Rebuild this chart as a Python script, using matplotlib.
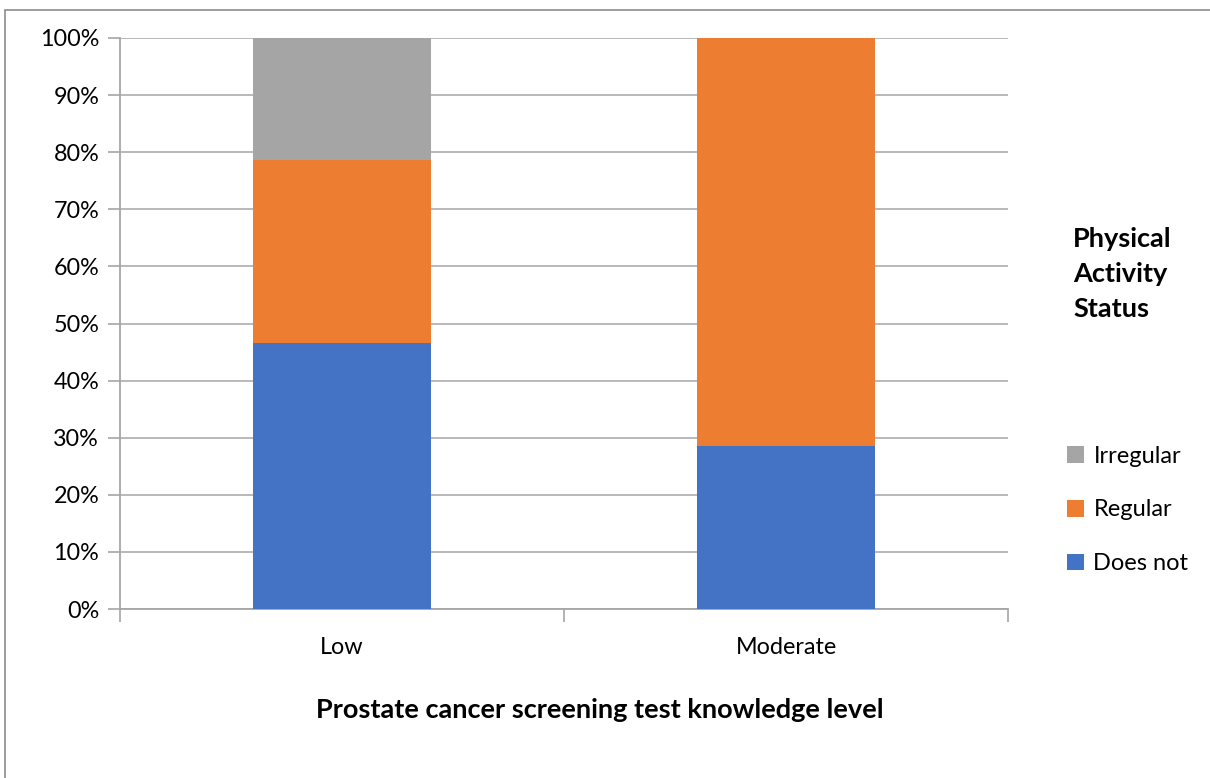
import numpy as np
import matplotlib.pyplot as plt
from matplotlib.patches import Rectangle

plt.rcParams['font.family'] = ['Lato', 'DejaVu Sans']

# data: percentage of each physical activity status per knowledge level
levels = ['Low', 'Moderate']
does_not = [46.6, 28.5]
regular = [32.0, 71.5]
irregular = [21.4, 0.0]

col_does = '#4472c4'
col_reg = '#ed7d31'
col_irr = '#a5a5a5'

fig = plt.figure(figsize=(12.1, 7.78), dpi=100)
W, H = 1210, 778
ax = fig.add_axes([120 / W, (H - 609) / H, 888 / W, 571 / H])

# outer chart border (cut off at right/bottom like the reference)
fig.patches.append(Rectangle((5 / W, -0.1), 1.2, (H - 10) / H + 0.1,
                             transform=fig.transFigure, fill=False,
                             edgecolor='#8c8c8c', linewidth=1.2))

x = np.arange(len(levels))
bw = 0.4
ax.bar(x, does_not, bw, color=col_does, label='Does not', zorder=3)
ax.bar(x, regular, bw, bottom=does_not, color=col_reg, label='Regular', zorder=3)
bot2 = np.array(does_not) + np.array(regular)
ax.bar(x, irregular, bw, bottom=bot2, color=col_irr, label='Irregular', zorder=3)

ax.set_xlim(-0.5, 1.5)
ax.set_ylim(0, 100)
ax.set_yticks(np.arange(0, 101, 10))
ax.set_yticklabels([f'{v}%' for v in range(0, 101, 10)], fontsize=16.8)
ax.set_xticks(x)
ax.set_xticklabels(levels, fontsize=16.8)
ax.tick_params(axis='x', length=0, pad=20)
ax.tick_params(axis='y', length=9, color='#a6a6a6', width=1.2, pad=6)
# minor ticks at category boundaries
ax.set_xticks([-0.5, 0.5, 1.5], minor=True)
ax.tick_params(axis='x', which='minor', length=9, color='#a6a6a6', width=1.2)

ax.grid(axis='y', color='#b3b3b3', linewidth=1.3, zorder=0)
for s in ['top', 'right']:
    ax.spines[s].set_visible(False)
ax.spines['left'].set_color('#a6a6a6')
ax.spines['bottom'].set_color('#a6a6a6')
ax.spines['left'].set_linewidth(1.3)
ax.spines['bottom'].set_linewidth(1.3)

fig.text(600 / W, 1 - 710 / H, 'Prostate cancer screening test knowledge level',
         ha='center', va='center', fontsize=19.5, fontweight='bold')

fig.text(1073 / W, 1 - 274 / H, 'Physical\nActivity\nStatus', ha='left',
         va='center', fontsize=19.5, fontweight='bold', linespacing=1.55)

handles, labels = ax.get_legend_handles_labels()
fig.legend(handles[::-1], labels[::-1], loc='center left',
           bbox_to_anchor=(1058 / W, 1 - 510 / H), frameon=False,
           fontsize=17, handlelength=0.7, handleheight=0.7,
           handletextpad=0.4, labelspacing=1.38, borderaxespad=0)

fig.savefig('out.png', dpi=100)
